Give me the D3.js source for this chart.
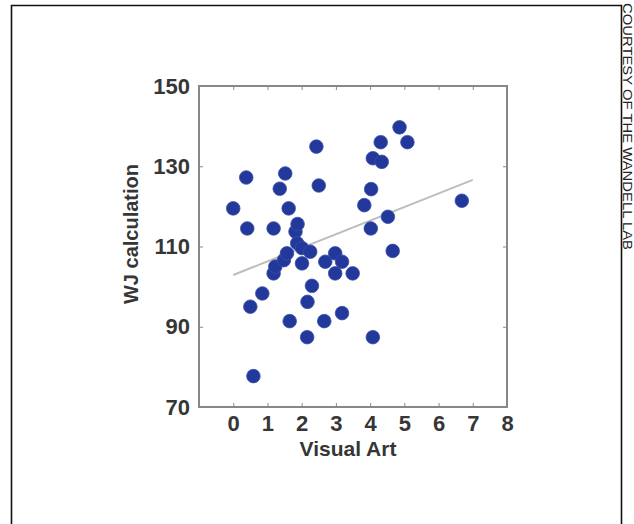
<!DOCTYPE html>
<html>
<head>
<meta charset="utf-8">
<script src="https://cdn.jsdelivr.net/npm/d3@7"></script>
<style>
  body { margin: 0; background: #fff; }
  text { font-family: "Liberation Sans", Arial, Helvetica, sans-serif; }
</style>
</head>
<body>
<div id="chart"></div>
<script>
// visual art score vs WJ calculation score
const artScores = [0.00, 0.38, 0.41, 0.50, 0.59, 0.85, 1.18, 1.18, 1.23, 1.48, 1.57, 1.36, 1.52, 1.62, 1.65,
  1.82, 1.88, 1.87, 2.01, 2.01, 2.25, 2.30, 2.17, 2.16, 2.43, 2.50, 2.69, 2.66, 2.98, 3.18,
  2.98, 3.49, 3.18, 4.08, 3.83, 4.02, 4.03, 4.08, 4.34, 4.31, 4.86, 5.09, 4.52, 4.66, 6.68];
const calcScores = [119.5, 127.2, 114.5, 95.0, 77.7, 98.3, 114.5, 103.3, 105.0, 106.6, 108.3, 124.4, 128.2, 119.5, 91.4,
  113.7, 115.6, 110.8, 109.6, 105.8, 108.7, 100.2, 96.2, 87.4, 134.9, 125.2, 106.2, 91.4, 108.3, 106.2,
  103.3, 103.3, 93.4, 87.4, 120.3, 114.5, 124.3, 132.0, 131.1, 136.0, 139.7, 136.0, 117.4, 108.9, 121.4];

// fitted line end points
const fitX = [0, 7];
const fitY = [102.9, 126.6];

const xTicks = [0, 1, 2, 3, 4, 5, 6, 7, 8];
const yTicks = [70, 90, 110, 130, 150];

const width = 634, height = 524;
const margin = { top: 86, right: 127, bottom: 117, left: 199 };

const svg = d3.select("#chart").append("svg")
  .attr("width", width)
  .attr("height", height);

// outer frame (open at bottom)
svg.append("path")
  .attr("d", `M11.5,${height + 5}V5.5H621.5V${height + 5}`)
  .attr("fill", "none")
  .attr("stroke", "#111")
  .attr("stroke-width", 1.6);

svg.append("text")
  .attr("transform", "translate(623,3) rotate(90)")
  .attr("textLength", 247)
  .attr("lengthAdjust", "spacingAndGlyphs")
  .attr("font-size", 12)
  .attr("fill", "#222")
  .text("COURTESY OF THE WANDELL LAB");

const x = d3.scaleLinear().domain([-1, 8]).range([margin.left, width - margin.right]);
const y = d3.scaleLinear().domain([70, 150]).range([height - margin.bottom, margin.top]);

const g = svg.append("g");
const axisColor = "#888";
const tickLen = 4;

// box
g.append("rect")
  .attr("x", x(-1)).attr("y", y(150))
  .attr("width", x(8) - x(-1)).attr("height", y(70) - y(150))
  .attr("fill", "none")
  .attr("stroke", axisColor)
  .attr("stroke-width", 2);

const axisFont = (sel) => sel.selectAll("text")
  .attr("font-size", 22)
  .attr("font-weight", "bold")
  .attr("fill", "#363636");

const xAxis = g.append("g")
  .attr("transform", `translate(0,${y(70)})`)
  .call(d3.axisBottom(x).tickValues(xTicks).tickSize(-tickLen).tickPadding(8).tickFormat(d3.format("d")));
xAxis.select(".domain").remove();
xAxis.selectAll("line").attr("stroke", axisColor);
xAxis.call(axisFont);

const xTop = g.append("g")
  .attr("transform", `translate(0,${y(150)})`)
  .call(d3.axisTop(x).tickValues(xTicks.slice(0, -1)).tickSize(-tickLen).tickFormat(""));
xTop.select(".domain").remove();
xTop.selectAll("line").attr("stroke", axisColor);

const yAxis = g.append("g")
  .attr("transform", `translate(${x(-1)},0)`)
  .call(d3.axisLeft(y).tickValues(yTicks).tickSize(-tickLen).tickPadding(9));
yAxis.select(".domain").remove();
yAxis.selectAll("line").attr("stroke", axisColor);
yAxis.call(axisFont);

const yRight = g.append("g")
  .attr("transform", `translate(${x(8)},0)`)
  .call(d3.axisRight(y).tickValues(yTicks.slice(1, -1)).tickSize(-tickLen).tickFormat(""));
yRight.select(".domain").remove();
yRight.selectAll("line").attr("stroke", axisColor);

// axis titles
svg.append("text")
  .attr("x", 348).attr("y", 456)
  .attr("text-anchor", "middle")
  .attr("font-size", 21)
  .attr("font-weight", "bold")
  .attr("fill", "#363636")
  .text("Visual Art");

svg.append("text")
  .attr("transform", "translate(138,234) rotate(-90)")
  .attr("text-anchor", "middle")
  .attr("font-size", 20)
  .attr("font-weight", "bold")
  .attr("fill", "#363636")
  .text("WJ calculation");

// fit line
g.append("line")
  .attr("x1", x(fitX[0])).attr("y1", y(fitY[0]))
  .attr("x2", x(fitX[1])).attr("y2", y(fitY[1]))
  .attr("stroke", "#bdbdbd")
  .attr("stroke-width", 2);

// dots
g.selectAll("circle")
  .data(artScores.map((a, i) => [a, calcScores[i]]))
  .join("circle")
  .attr("cx", d => x(d[0]))
  .attr("cy", d => y(d[1]))
  .attr("r", 6.8)
  .attr("fill", "#22389a")
  .attr("stroke", "#3a4fa5")
  .attr("stroke-width", 0.8);
</script>
</body>
</html>
